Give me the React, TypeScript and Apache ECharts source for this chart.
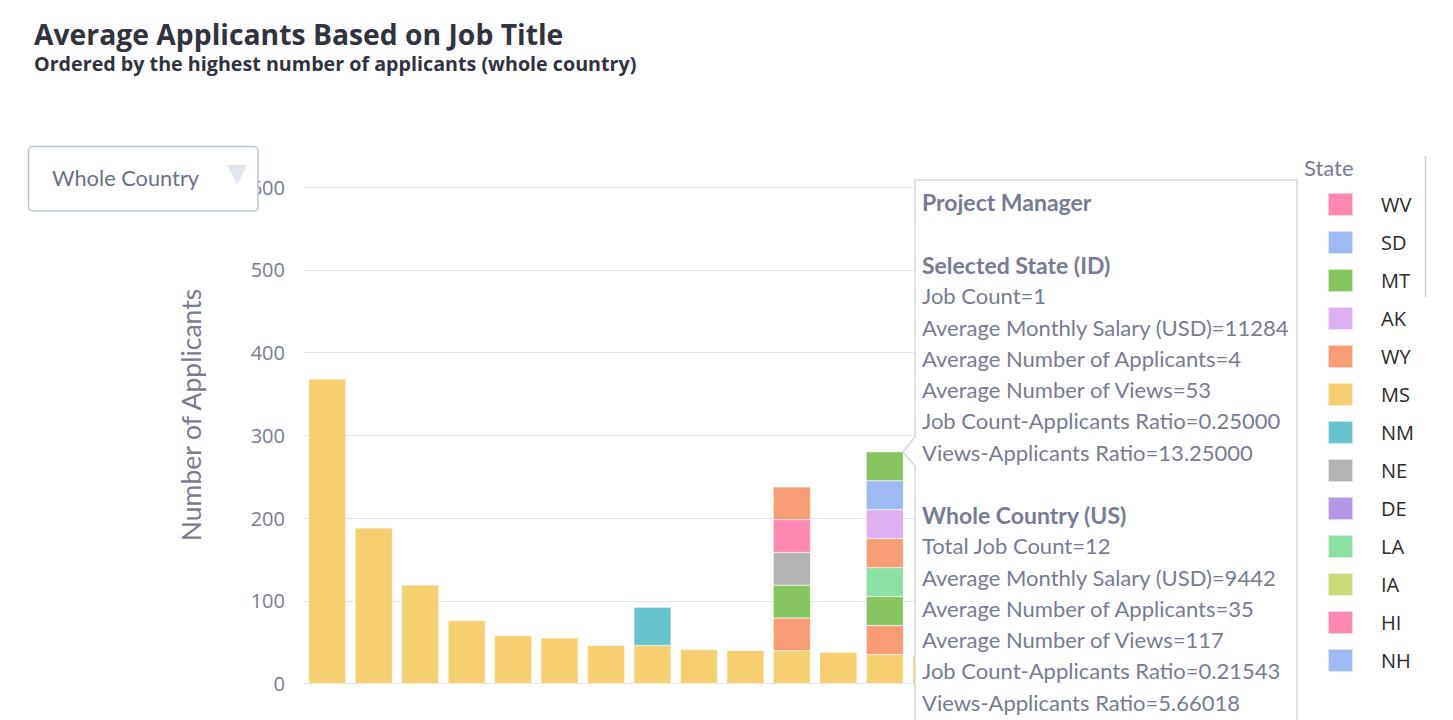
import React, { useEffect, useRef } from "react";
import * as echarts from "echarts";

// ---------- data ----------
const jobTitles = [
  "Software Engineer",
  "Data Analyst",
  "Account Manager",
  "Sales Representative",
  "Marketing Manager",
  "Business Analyst",
  "Product Manager",
  "Customer Service Representative",
  "Financial Analyst",
  "Registered Nurse",
  "Operations Manager",
  "Accountant",
  "Project Manager",
  "Administrative Assistant",
];

// stacked segments (average applicants), bottom to top
const MS = [368, 188, 119, 76, 58, 55, 46, 46, 41, 40, 39.6, 37.8, 35, 33];
const NM = [null, null, null, null, null, null, null, 46, null, null, null, null, null, null];
const WY = [null, null, null, null, null, null, null, null, null, null, 39.6, null, 35, null];
const MT = [null, null, null, null, null, null, null, null, null, null, 39.6, null, 35, null];
const NE = [null, null, null, null, null, null, null, null, null, null, 39.6, null, null, null];
const LA = [null, null, null, null, null, null, null, null, null, null, null, null, 35, null];
const HI = [null, null, null, null, null, null, null, null, null, null, 39.6, null, null, null];
const OK = [null, null, null, null, null, null, null, null, null, null, 39.6, null, 35, null];
const AK = [null, null, null, null, null, null, null, null, null, null, null, null, 35, null];
const SD = [null, null, null, null, null, null, null, null, null, null, null, null, 35, null];
const ID = [null, null, null, null, null, null, null, null, null, null, null, null, 35, null];
const WV: (number | null)[] = [];
const DE: (number | null)[] = [];
const IA: (number | null)[] = [];
const NH: (number | null)[] = [];

const legendStates = ["WV", "SD", "MT", "AK", "WY", "MS", "NM", "NE", "DE", "LA", "IA", "HI", "NH"];

const stackOrder: [string, (number | null)[]][] = [
  ["MS", MS],
  ["NM", NM],
  ["WY", WY],
  ["MT", MT],
  ["NE", NE],
  ["LA", LA],
  ["HI", HI],
  ["OK", OK],
  ["AK", AK],
  ["SD", SD],
  ["ID", ID],
  ["WV", WV],
  ["DE", DE],
  ["IA", IA],
  ["NH", NH],
];

const yMax = 600;
const yInterval = 100;

const tooltipJob = "Project Manager";
const selectedHeader = "Selected State (ID)";
const selectedLines = [
  "Job Count=1",
  "Average Monthly Salary (USD)=11284",
  "Average Number of Applicants=4",
  "Average Number of Views=53",
  "Job Count-Applicants Ratio=0.25000",
  "Views-Applicants Ratio=13.25000",
];
const countryHeader = "Whole Country (US)";
const countryLines = [
  "Total Job Count=12",
  "Average Monthly Salary (USD)=9442",
  "Average Number of Applicants=35",
  "Average Number of Views=117",
  "Job Count-Applicants Ratio=0.21543",
  "Views-Applicants Ratio=5.66018",
];

const titleText = "Average Applicants Based on Job Title";
const subtitleText = "Ordered by the highest number of applicants (whole country)";
const yAxisTitle = "Number of Applicants";
const dropdownLabel = "Whole Country";
const legendTitle = "State";

// ---------- styles ----------
const palette: Record<string, string> = {
  NM: "#66C5CC",
  MS: "#F6CF71",
  WY: "#F89C74",
  OK: "#F89C74",
  AK: "#DCB0F2",
  MT: "#87C55F",
  ID: "#87C55F",
  SD: "#9EB9F3",
  NH: "#9EB9F3",
  WV: "#FE88B1",
  HI: "#FE88B1",
  IA: "#C9DB74",
  LA: "#8BE0A4",
  DE: "#B497E7",
  NE: "#B3B3B3",
};

const FONT = "Lato";
const GRAY = "#787c90";
const DARK = "#31333F";

export default function App() {
  const ref = useRef<HTMLDivElement>(null);

  useEffect(() => {
    if (!ref.current) return;
    const chart = echarts.init(ref.current, undefined, { renderer: "svg" });

    const lineH = 31.25;
    const tipX = 922;
    const tipY0 = 202;
    const tipTexts: any[] = [];
    const addLine = (text: string, idx: number, bold: boolean) => {
      tipTexts.push({
        type: "text",
        x: tipX,
        y: tipY0 + idx * lineH,
        z: 102,
        style: {
          text,
          fill: GRAY,
          font: bold ? `bold 23px ${FONT}` : `22px ${FONT}`,
          verticalAlign: "middle",
          align: "left",
        },
      });
    };
    addLine(tooltipJob, 0, true);
    addLine(selectedHeader, 2, true);
    selectedLines.forEach((t, i) => addLine(t, 3 + i, false));
    addLine(countryHeader, 10, true);
    countryLines.forEach((t, i) => addLine(t, 11 + i, false));

    const option: any = {
      animation: false,
      backgroundColor: "#ffffff",
      title: {
        text: titleText,
        subtext: subtitleText,
        left: 34,
        top: 19.5,
        padding: 0,
        itemGap: 5.5,
        textStyle: { fontFamily: "Open Sans", fontSize: 28.3, fontWeight: "bold", color: DARK },
        subtextStyle: { fontFamily: "Open Sans", fontSize: 19.7, fontWeight: "bold", color: DARK },
      },
      grid: { left: 304, top: 187, width: 650.5, bottom: 36.5, containLabel: false },
      legend: {
        data: legendStates,
        orient: "vertical",
        left: 1327,
        top: 192,
        padding: 0,
        itemWidth: 25,
        itemHeight: 23,
        itemGap: 13,
        icon: "rect",
        selectedMode: false,
        textStyle: { fontFamily: "Open Sans", fontSize: 20, color: "#2b2b2b", padding: [0, 0, 0, 23] },
      },
      xAxis: {
        type: "category",
        data: jobTitles,
        axisLine: { show: false },
        axisTick: { show: false },
        axisLabel: { show: false },
      },
      yAxis: {
        type: "value",
        min: 0,
        max: yMax,
        interval: yInterval,
        axisLine: { show: false },
        axisTick: { show: false },
        axisLabel: { fontFamily: "Open Sans", fontSize: 20, color: GRAY, margin: 19 },
        splitLine: { lineStyle: { color: "#e4e7ed", width: 1.2 } },
      },
      series: stackOrder.map(([name, data]) => ({
        name,
        type: "bar",
        stack: "total",
        data,
        barCategoryGap: "20%",
        itemStyle: { color: palette[name], borderColor: "rgba(255,255,255,0.6)", borderWidth: 0.5 },
      })),
      graphic: [
        {
          type: "text",
          x: 191,
          y: 415,
          rotation: Math.PI / 2,
          z: 100,
          style: {
            text: yAxisTitle,
            fill: GRAY,
            font: `26.5px ${FONT}`,
            align: "center",
            verticalAlign: "middle",
          },
        },
        // dropdown
        {
          type: "rect",
          z: 100,
          shape: { x: 28.5, y: 146.5, width: 229.5, height: 64.5, r: 4 },
          style: { fill: "#ffffff", stroke: "#bcc5d8", lineWidth: 1.5 },
        },
        {
          type: "text",
          x: 52,
          y: 177,
          z: 101,
          style: { text: dropdownLabel, fill: "#6c7086", font: `21.8px ${FONT}`, verticalAlign: "middle" },
        },
        {
          type: "polygon",
          z: 101,
          shape: { points: [[227, 165], [247, 165], [237, 185]] },
          style: { fill: "#e1e6ee" },
        },
        // legend title and scroll bar
        {
          type: "text",
          x: 1304,
          y: 167,
          z: 100,
          style: { text: legendTitle, fill: GRAY, font: `22px ${FONT}`, verticalAlign: "middle" },
        },
        {
          type: "line",
          z: 100,
          shape: { x1: 1425.5, y1: 156, x2: 1425.5, y2: 297 },
          style: { stroke: "#cfcfcf", lineWidth: 1.5 },
        },
        // tooltip
        {
          type: "rect",
          z: 100,
          shape: { x: 915, y: 180, width: 382, height: 600 },
          style: { fill: "#ffffff", stroke: "#d6d8dc", lineWidth: 1.5 },
        },
        {
          type: "polyline",
          z: 101,
          shape: { points: [[915, 437], [903, 452], [915, 466]] },
          style: { fill: "#ffffff", stroke: "#d6d8dc", lineWidth: 1.5 },
        },
        {
          type: "rect",
          z: 101,
          shape: { x: 914, y: 438, width: 3, height: 27 },
          style: { fill: "#ffffff" },
        },
        ...tipTexts,
      ],
    };

    chart.setOption(option);
    return () => chart.dispose();
  }, []);

  return (
    <div
      ref={ref}
      style={{ position: "fixed", left: 0, top: 0, width: 1453, height: 720, background: "#fff" }}
    />
  );
}
